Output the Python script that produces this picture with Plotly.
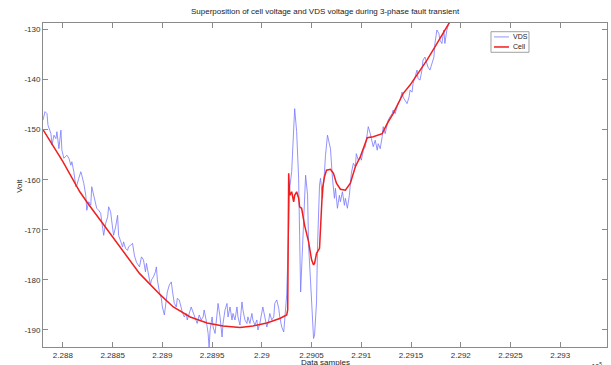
import plotly.graph_objects as go

# Cell voltage (red, smooth)
cell_x = [228780, 228800, 228817, 228825, 228841, 228862, 228877, 228898, 228911, 228928,
          228945, 228961, 228978, 228991, 229005, 229018, 229025, 229026, 229027, 229028,
          229030, 229032, 229033, 229035, 229037, 229038, 229040, 229043, 229047, 229050,
          229052, 229053, 229055, 229058, 229059, 229061, 229063, 229065, 229069, 229072,
          229075, 229079, 229084, 229089, 229094, 229099, 229106, 229112, 229121, 229126,
          229132, 229142, 229149, 229157, 229166, 229176, 229186, 229191]
cell_y = [-150.0, -156.4, -162.4, -164.7, -169.0, -174.7, -178.7, -183.0, -185.4, -187.4,
          -188.6, -189.2, -189.5, -189.2, -188.6, -187.7, -187.0, -186.0, -158.7, -163.1,
          -162.4, -164.4, -163.1, -162.4, -163.7, -165.4, -165.7, -169.1, -172.4, -176.0,
          -177.0, -176.7, -174.7, -173.7, -169.7, -161.7, -159.4, -158.1, -157.9, -158.7,
          -160.7, -161.9, -162.1, -160.7, -157.4, -155.4, -151.6, -151.4, -150.8, -148.8,
          -146.8, -142.8, -141.1, -138.8, -136.1, -132.8, -129.5, -127.8]

# VDS voltage (blue, noisy)
vds_x = [228780, 228782, 228784, 228785, 228788, 228789, 228791, 228793, 228794, 228796,
         228798, 228799, 228801, 228804, 228806, 228808, 228809, 228811, 228813, 228814,
         228816, 228818, 228819, 228821, 228823, 228824, 228826, 228828, 228829, 228831,
         228833, 228834, 228836, 228838, 228840, 228841, 228843, 228845, 228846, 228848,
         228850, 228851, 228853, 228855, 228856, 228858, 228860, 228861, 228863, 228865,
         228866, 228868, 228870, 228872, 228874, 228877, 228879, 228881, 228883, 228884,
         228886, 228888, 228889, 228891, 228893, 228894, 228895, 228897, 228899, 228900,
         228902, 228904, 228905, 228907, 228909, 228910, 228912, 228914, 228915, 228917,
         228919, 228920, 228922, 228924, 228925, 228927, 228929, 228930, 228932, 228934,
         228935, 228937, 228939, 228941, 228942, 228944, 228946, 228947, 228948, 228950,
         228951, 228953, 228955, 228956, 228958, 228960, 228961, 228963, 228965, 228966,
         228968, 228970, 228971, 228973, 228975, 228976, 228978, 228980, 228981, 228983,
         228985, 228986, 228988, 228990, 228991, 228993, 228995, 228996, 228998, 228999,
         229001, 229003, 229005, 229007, 229008, 229010, 229012, 229013, 229015, 229017,
         229018, 229020, 229022, 229023, 229025, 229027, 229028, 229030, 229032, 229033,
         229035, 229037, 229038, 229039, 229041, 229043, 229044, 229046, 229047, 229049,
         229051, 229052, 229053, 229055, 229056, 229058, 229059, 229061, 229063, 229064,
         229066, 229068, 229069, 229071, 229073, 229074, 229076, 229078, 229079, 229081,
         229083, 229084, 229086, 229088, 229089, 229090, 229092, 229094, 229095, 229097,
         229099, 229100, 229102, 229104, 229106, 229107, 229109, 229111, 229112, 229114,
         229116, 229117, 229119, 229121, 229122, 229124, 229126, 229127, 229129, 229131,
         229132, 229134, 229136, 229137, 229139, 229141, 229142, 229144, 229146, 229148,
         229149, 229151, 229152, 229154, 229156, 229157, 229159, 229161, 229162, 229164,
         229166, 229167, 229169, 229171, 229173, 229174, 229176, 229178, 229179, 229181,
         229183, 229184, 229186, 229188, 229189]
vds_y = [-148.1, -146.4, -146.8, -149.1, -150.8, -153.1, -151.1, -151.8, -150.4, -153.8,
         -150.1, -154.1, -155.7, -155.1, -155.7, -157.1, -156.4, -158.4, -161.4, -161.1,
         -159.7, -158.4, -159.1, -160.7, -163.1, -166.1, -164.4, -165.1, -161.4, -163.1,
         -164.4, -165.7, -166.1, -166.7, -169.7, -171.1, -168.7, -167.4, -165.4, -166.4,
         -169.7, -171.1, -169.4, -167.1, -171.1, -172.4, -173.4, -172.4, -173.7, -174.1,
         -173.4, -173.1, -172.7, -175.2, -176.5, -177.4, -175.4, -176.0, -178.4, -176.7,
         -179.0, -181.0, -180.0, -179.4, -178.4, -177.4, -180.0, -182.4, -183.7, -185.4,
         -187.0, -184.4, -182.4, -181.0, -180.4, -182.0, -184.7, -185.4, -183.7, -184.0,
         -185.7, -186.4, -187.4, -186.7, -188.0, -186.7, -185.4, -186.0, -187.0, -188.0,
         -188.7, -187.0, -188.0, -187.4, -186.0, -188.0, -190.7, -193.5, -190.0, -187.4,
         -189.4, -190.7, -187.4, -184.7, -187.4, -191.4, -188.7, -186.0, -184.7, -187.4,
         -185.4, -188.0, -186.7, -188.0, -185.4, -187.4, -189.0, -184.4, -186.0, -188.0,
         -188.7, -187.4, -188.7, -186.7, -188.0, -189.0, -188.0, -190.0, -188.7, -187.4,
         -185.4, -187.4, -189.4, -188.0, -186.7, -188.0, -187.4, -184.7, -184.0, -185.7,
         -187.4, -189.4, -190.4, -188.0, -183.0, -169.7, -161.7, -158.4, -151.1, -145.8,
         -150.4, -159.7, -171.1, -182.4, -173.1, -163.1, -159.1, -163.1, -173.1, -180.4,
         -187.0, -191.7, -191.0, -184.4, -173.1, -161.1, -159.7, -163.7, -158.4, -155.1,
         -151.1, -153.1, -153.8, -159.7, -163.7, -161.7, -165.7, -163.1, -164.4, -162.4,
         -165.1, -163.7, -165.7, -163.1, -161.4, -158.7, -156.7, -157.4, -154.8, -156.1,
         -155.4, -156.1, -154.1, -153.4, -150.8, -149.4, -150.8, -152.8, -153.4, -152.1,
         -154.1, -152.8, -153.8, -151.4, -149.4, -150.8, -148.8, -148.1, -147.4, -146.8,
         -146.1, -146.8, -145.4, -144.8, -144.1, -142.5, -143.5, -144.1, -144.8, -143.5,
         -142.1, -142.5, -140.8, -139.5, -138.1, -139.8, -140.1, -138.1, -136.1, -135.5,
         -136.8, -137.5, -138.1, -136.8, -135.5, -132.8, -130.1, -130.8, -132.1, -132.8,
         -130.1, -132.8, -130.1, -128.8, -128.1]

x_tickvals = [228800, 228850, 228900, 228950, 229000, 229050, 229100, 229150, 229200, 229250, 229300]
x_ticktext = ["2.288", "2.2885", "2.289", "2.2895", "2.29", "2.2905", "2.291", "2.2915", "2.292", "2.2925", "2.293"]
y_tickvals = [-190, -180, -170, -160, -150, -140, -130]
y_ticktext = ["-190", "-180", "-170", "-160", "-150", "-140", "-130"]

series_names = ["VDS", "Cell"]
series_colors = ["rgba(120,120,255,0.8)", "rgb(240,30,30)"]

FONT = "Liberation Sans, Arial, sans-serif"

fig = go.Figure()
fig.add_trace(go.Scatter(x=vds_x, y=vds_y, mode="lines", name=series_names[0],
                         line=dict(color=series_colors[0], width=1)))
fig.add_trace(go.Scatter(x=cell_x, y=cell_y, mode="lines", name=series_names[1],
                         line=dict(color=series_colors[1], width=1.5)))

axis_common = dict(showline=True, linecolor="#8a8a8a", linewidth=1, mirror="ticks",
                   ticks="inside", ticklen=5, tickcolor="#8a8a8a", showgrid=False,
                   zeroline=False, automargin=False,
                   tickfont=dict(size=8, color="#333", family=FONT))

fig.update_layout(
    width=611, height=365,
    margin=dict(l=43, r=4, t=23, b=18),
    paper_bgcolor="white", plot_bgcolor="white",
    font=dict(family=FONT, size=8, color="#222"),
    xaxis=dict(range=[228780, 229347], tickvals=x_tickvals, ticktext=x_ticktext, **axis_common),
    yaxis=dict(range=[-193.4, -128.7], tickvals=y_tickvals, ticktext=y_ticktext, **axis_common),
    showlegend=False,
)

def ann(text, x, y, size=8, **kw):
    fig.add_annotation(text=text, xref="paper", yref="paper", x=x, y=y, showarrow=False,
                       font=dict(size=size, color="#222", family=FONT), **kw)

# title and axis labels
ann("Superposition of cell voltage and VDS voltage during 3-phase fault transient",
    0.5, 1.034, size=8, xanchor="center", yanchor="middle")
ann("Data samples", 0.5, -0.048, xanchor="center", yanchor="middle")
ann("Volt", -0.041, 0.497, textangle=-90, xanchor="center", yanchor="middle")
ann("x 10<sup>5</sup>", 0.995, -0.04, size=7, xanchor="right", yanchor="top")

# legend box (MATLAB style)
fig.add_shape(type="rect", xref="paper", yref="paper", x0=0.7943, x1=0.8617, y0=0.9096, y1=0.9731,
              line=dict(color="#a0a0a0", width=1), fillcolor="white", layer="above")
for i, (nm, col) in enumerate(zip(series_names, series_colors)):
    yy = [0.957, 0.926][i]
    fig.add_shape(type="line", xref="paper", yref="paper", x0=0.7996, x1=0.8262, y0=yy, y1=yy,
                  line=dict(color=col, width=1 if i == 0 else 1.5), layer="above")
    ann(nm, 0.8298, yy, size=7, xanchor="left", yanchor="middle")

fig.write_html("out.html", config={"displayModeBar": False},
               post_script="document.body.style.margin='0';document.body.style.overflow='hidden';")
